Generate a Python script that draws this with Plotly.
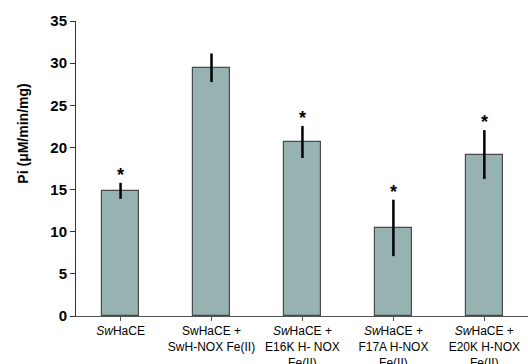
import plotly.graph_objects as go

# Phosphate release rates for SwHaCE alone and with H-NOX variants
categories = [
    "<i>Sw</i>HaCE",
    "SwHaCE +<br>SwH-NOX Fe(II)",
    "<i>Sw</i>HaCE +<br>E16K H- NOX<br>Fe(II)",
    "<i>Sw</i>HaCE +<br>F17A H-NOX<br>Fe(II)",
    "<i>Sw</i>HaCE +<br>E20K H-NOX<br>Fe(II)",
]
rates = [14.85, 29.45, 20.65, 10.45, 19.15]
errors = [0.95, 1.7, 1.9, 3.35, 2.9]
significant = [True, False, True, True, True]
y_ticks = [0, 5, 10, 15, 20, 25, 30, 35]

x_pos = list(range(len(categories)))

fig = go.Figure()
fig.add_trace(go.Bar(
    x=x_pos,
    y=rates,
    width=0.4,
    marker=dict(color="#96B3B2", line=dict(color="#4a4a4a", width=1.2)),
    error_y=dict(type="data", array=errors, visible=True,
                 color="black", thickness=2.5, width=0),
    showlegend=False,
))

# significance markers above the error bars
for xi, v, e, sig in zip(x_pos, rates, errors, significant):
    if sig:
        fig.add_annotation(
            x=xi, y=v + e, xref="x", yref="y",
            text="<b>*</b>", showarrow=False,
            yanchor="bottom", yshift=-4,
            font=dict(family="Arial, Liberation Sans", size=18, color="black"),
        )

# y-axis title
fig.add_annotation(
    x=-0.118, y=0.617, xref="paper", yref="paper",
    text="<b>Pi (μM/min/mg)</b>", textangle=-90, showarrow=False,
    xanchor="center", yanchor="middle",
    font=dict(family="Arial, Liberation Sans", size=14, color="black"),
)

fig.update_layout(
    width=528, height=364,
    margin=dict(l=76, r=0, t=21, b=48),
    paper_bgcolor="white", plot_bgcolor="white",
    font=dict(family="Arial, Liberation Sans", color="black"),
    bargap=0,
)
fig.update_xaxes(
    range=[-0.49, 4.48],
    automargin=False,
    tickmode="array", tickvals=x_pos, ticktext=categories,
    tickson="boundaries",
    ticks="outside", ticklen=4, tickcolor="#555", tickwidth=1,
    showline=True, linecolor="#555", linewidth=1,
    showgrid=False, zeroline=False,
    tickfont=dict(family="Arial, Liberation Sans", size=12, color="black"),
)
fig.update_yaxes(
    range=[0, 35],
    automargin=False,
    tickmode="array", tickvals=y_ticks,
    ticktext=[f"<b>{t}</b>" for t in y_ticks],
    ticks="outside", ticklen=5, tickcolor="#333", tickwidth=1,
    showline=True, linecolor="#333", linewidth=1,
    showgrid=False, zeroline=False,
    tickfont=dict(family="Arial, Liberation Sans", size=15, color="black"),
)

fig.write_html("out.html")
